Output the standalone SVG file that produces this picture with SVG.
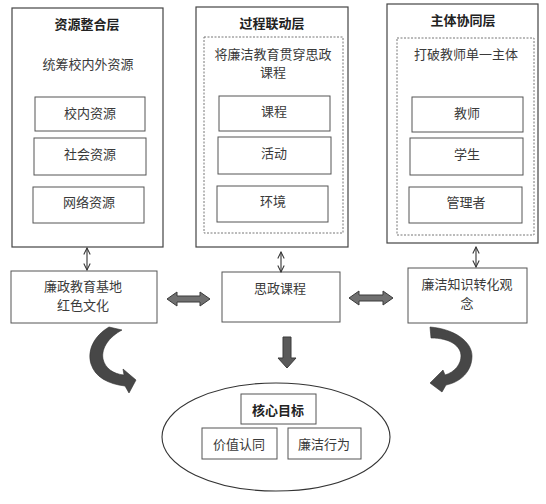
<svg xmlns="http://www.w3.org/2000/svg" width="546" height="504" viewBox="0 0 546 504">
<defs>
<style>
text{font-family:"Noto Sans CJK SC","Noto Sans CJK JP",sans-serif;font-size:13px;fill:#3a3a3a;text-anchor:middle;dominant-baseline:central}
.b{font-weight:bold;fill:#222}
.box{fill:#fff;stroke:#555;stroke-width:1}
.outer{fill:#fff;stroke:#444;stroke-width:1.2}
.dot{fill:none;stroke:#777;stroke-width:1;stroke-dasharray:2 1.5}
.thin{stroke:#333;stroke-width:1.1;fill:none;marker-start:url(#chev);marker-end:url(#chev)}
.thick{fill:#707070;stroke:#3a3a3a;stroke-width:1}
.curve{fill:#474747;stroke:#333;stroke-width:0.6}
</style>
<marker id="chev" viewBox="0 0 10 10" refX="9" refY="5" markerWidth="8" markerHeight="8" markerUnits="userSpaceOnUse" orient="auto-start-reverse">
<path d="M1,1 L9,5 L1,9" fill="none" stroke="#333" stroke-width="1.3"/>
</marker>
</defs>
<rect width="546" height="504" fill="#fff"/>

<g id="layer-resource">
<rect class="outer" x="12" y="8" width="151" height="239"/>
<text class="b" x="87" y="23">资源整合层</text>
<text x="88" y="63">统筹校内外资源</text>
<rect class="box" x="35" y="97" width="110" height="34"/>
<text x="90" y="112">校内资源</text>
<rect class="box" x="34" y="138" width="112" height="37"/>
<text x="90" y="153">社会资源</text>
<rect class="box" x="33" y="187" width="111" height="36"/>
<text x="89" y="201">网络资源</text>
</g>

<g id="layer-process">
<rect class="outer" x="196" y="7" width="152" height="240"/>
<text class="b" x="272" y="22">过程联动层</text>
<rect class="dot" x="204" y="37" width="139" height="196"/>
<text x="273" y="53">将廉洁教育贯穿思政</text>
<text x="273" y="71">课程</text>
<rect class="box" x="219" y="96" width="111" height="35"/>
<text x="274" y="110">课程</text>
<rect class="box" x="218" y="137" width="113" height="37"/>
<text x="274" y="152">活动</text>
<rect class="box" x="217" y="186" width="111" height="36"/>
<text x="273" y="200">环境</text>
</g>

<g id="layer-subject">
<rect class="outer" x="387" y="4" width="151" height="239"/>
<text class="b" x="463" y="19">主体协同层</text>
<rect class="dot" x="397" y="38" width="137" height="197"/>
<text x="466" y="53">打破教师单一主体</text>
<rect class="box" x="412" y="97" width="111" height="35"/>
<text x="467" y="112">教师</text>
<rect class="box" x="410" y="138" width="113" height="37"/>
<text x="467" y="153">学生</text>
<rect class="box" x="409" y="187" width="113" height="36"/>
<text x="466" y="201">管理者</text>
</g>

<g id="node-base">
<rect class="box" x="11" y="271" width="146" height="52"/>
<text x="83" y="285">廉政教育基地</text>
<text x="83" y="304">红色文化</text>
</g>

<g id="node-course">
<rect class="box" x="222" y="272" width="118" height="50"/>
<text x="280" y="287">思政课程</text>
</g>

<g id="node-knowledge">
<rect class="box" x="408" y="268" width="119" height="55"/>
<text x="467" y="283">廉洁知识转化观</text>
<text x="467" y="302">念</text>
</g>

<g id="node-goal">
<ellipse cx="276" cy="437" rx="114" ry="54" fill="#fff" stroke="#333" stroke-width="1.1"/>
<rect class="box" x="241" y="394" width="75" height="30"/>
<text class="b" x="278" y="409">核心目标</text>
<rect class="box" x="202" y="428" width="75" height="31"/>
<text x="239" y="443">价值认同</text>
<rect class="box" x="288" y="428" width="73" height="31"/>
<text x="324" y="443">廉洁行为</text>
</g>

<g id="connectors">
<line class="thin" x1="87" y1="248" x2="87" y2="270"/>
<line class="thin" x1="281" y1="252" x2="281" y2="272"/>
<line class="thin" x1="476" y1="247" x2="476" y2="267"/>
<path class="thick" d="M167,299 L177,292 L177,296 L200,296 L200,292 L210,299 L200,306 L200,302 L177,302 L177,306 Z"/>
<path class="thick" d="M349,298 L359,291 L359,295 L383,295 L383,291 L393,298 L383,305 L383,301 L359,301 L359,305 Z"/>
<path class="thick" style="fill:#5a5a5a" d="M283,337 L291,337 L291,358 L296,358 L287,368 L278,358 L283,358 Z"/>
<path class="curve" d="M109,327 C94,336 87,350 91,364 C95,377 108,384 125,386 L129,393 L136,380 L123,369 L124,375 C113,374 105,368 103,359 C101,348 109,337 122,330 Z"/>
<path class="curve" d="M430,327 C455,329 472,342 472,356 C472,371 461,382 446,385 L442,392 L430,383 L443,370 L445,375 C455,372 461,364 461,356 C461,346 450,338 431,338 Z"/>
</g>
</svg>
